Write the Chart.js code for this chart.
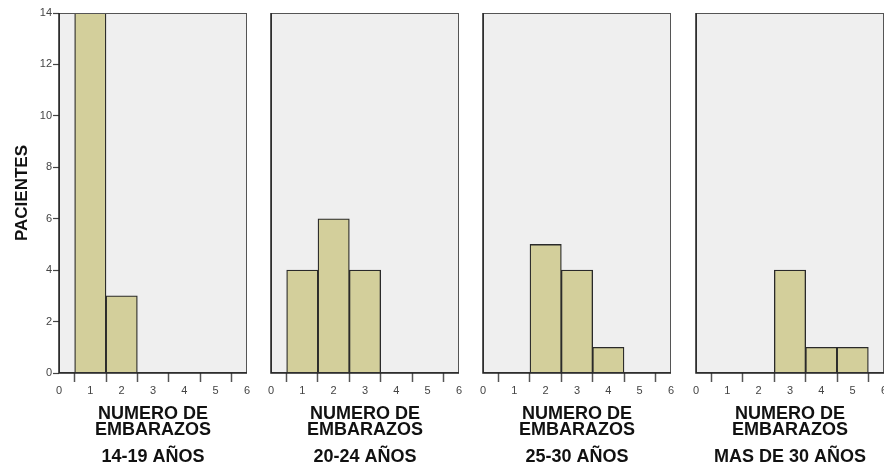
<!DOCTYPE html>
<html>
<head>
<meta charset="utf-8">
<title>Número de embarazos por grupo de edad</title>
<script src="https://cdn.jsdelivr.net/npm/chart.js@4.4.1/dist/chart.umd.min.js"></script>
<style>
  html, body { margin: 0; padding: 0; background: #ffffff; overflow: hidden; }
  #wrap { position: relative; width: 884px; height: 466px; }
  canvas { position: absolute; top: 0; }
</style>
</head>
<body>
<div id="wrap"></div>
<script>
// Number of pregnancies (x) and patient counts per age group
const embarazos = [1, 2, 3, 4, 5];
const xTicks = [0, 1, 2, 3, 4, 5, 6];
const yTicks = [0, 2, 4, 6, 8, 10, 12, 14];
const grupos = ['14-19 AÑOS', '20-24 AÑOS', '25-30 AÑOS', 'MAS DE 30 AÑOS'];
const pacientes14_19 = [14, 3, 0, 0, 0];
const pacientes20_24 = [4, 6, 4, 0, 0];
const pacientes25_30 = [0, 5, 4, 1, 0];
const pacientesMas30 = [0, 0, 4, 1, 1];
const series = [pacientes14_19, pacientes20_24, pacientes25_30, pacientesMas30];

const xTitle = ['NUMERO DE', 'EMBARAZOS'];
const yTitle = 'PACIENTES';

// panel geometry
const H = 466;
const plotLefts = [59, 271, 483, 696];
const plotW = 188;
const plotTop = 13;
const plotBottom = 373;

const barColor = '#d3cf9b';
const bgColor = '#efefef';
const inkColor = '#222222';
const FONT = '"Liberation Sans", Arial, sans-serif';

// fills the plot area and draws the frame plus the titles below it
const panelDecor = {
  id: 'panelDecor',
  beforeDatasetsDraw(chart) {
    const { ctx, chartArea: a } = chart;
    ctx.save();
    ctx.fillStyle = bgColor;
    ctx.fillRect(a.left, a.top, a.right - a.left, a.bottom - a.top);
    ctx.restore();
  },
  afterDraw(chart, args, opts) {
    const { ctx, chartArea: a } = chart;
    ctx.save();
    ctx.strokeStyle = '#555555';
    ctx.lineWidth = 1;
    ctx.strokeRect(a.left + 0.5, a.top + 0.5, a.right - a.left - 1, a.bottom - a.top - 1);
    ctx.strokeStyle = inkColor;
    ctx.lineWidth = 1.5;
    ctx.beginPath();
    ctx.moveTo(a.left, a.top);
    ctx.lineTo(a.left, a.bottom);
    ctx.lineTo(a.right, a.bottom);
    ctx.stroke();

    const cx = (a.left + a.right) / 2;
    ctx.fillStyle = '#111111';
    ctx.textAlign = 'center';
    ctx.textBaseline = 'alphabetic';
    ctx.font = 'bold 18px ' + FONT;
    ctx.fillText(xTitle[0], cx, 419);
    ctx.fillText(xTitle[1], cx, 435);
    ctx.fillText(opts.group, cx, 462);

    if (opts.showYTitle) {
      ctx.translate(27, (a.top + a.bottom) / 2);
      ctx.rotate(-Math.PI / 2);
      ctx.font = 'bold 17px ' + FONT;
      ctx.fillText(yTitle, 0, 0);
    }
    ctx.restore();
  }
};

const wrap = document.getElementById('wrap');

series.forEach((vals, i) => {
  const first = i === 0;
  const padLeft = first ? 0 : 12;
  const padRight = 12;
  const leftSpace = first ? plotLefts[0] : padLeft;
  const canvasLeft = plotLefts[i] - leftSpace;
  const canvasW = leftSpace + plotW + padRight;

  const cv = document.createElement('canvas');
  cv.width = canvasW;
  cv.height = H;
  cv.style.left = canvasLeft + 'px';
  cv.style.width = canvasW + 'px';
  cv.style.height = H + 'px';
  wrap.appendChild(cv);

  const points = embarazos
    .map((x, k) => ({ x: x, y: vals[k] }))
    .filter(p => p.y > 0);

  new Chart(cv, {
    type: 'bar',
    data: {
      datasets: [{
        data: points,
        backgroundColor: barColor,
        borderColor: '#2a2a2a',
        borderWidth: 1.3,
        barPercentage: 1,
        categoryPercentage: 1
      }]
    },
    options: {
      responsive: false,
      animation: false,
      devicePixelRatio: 1,
      layout: { padding: { left: padLeft, right: padRight, top: plotTop, bottom: 0 } },
      plugins: {
        legend: { display: false },
        tooltip: { enabled: false },
        panelDecor: { group: grupos[i], showYTitle: first }
      },
      scales: {
        x: {
          type: 'linear',
          min: xTicks[0],
          max: xTicks[xTicks.length - 1],
          offset: false,
          afterFit(scale) { scale.height = H - plotBottom; },
          afterBuildTicks(scale) { scale.ticks = xTicks.map(v => ({ value: v })); },
          grid: {
            drawOnChartArea: false,
            drawTicks: true,
            tickLength: 9,
            tickColor: '#555555',
            tickWidth: 1.5
          },
          border: { display: false },
          ticks: {
            padding: 2,
            color: '#444444',
            font: { family: FONT, size: 11 },
            maxRotation: 0,
            autoSkip: false
          }
        },
        y: {
          display: first,
          min: yTicks[0],
          max: yTicks[yTicks.length - 1],
          afterFit(scale) { if (first) scale.width = plotLefts[0]; },
          afterBuildTicks(scale) { scale.ticks = yTicks.map(v => ({ value: v })); },
          grid: {
            drawOnChartArea: false,
            drawTicks: true,
            tickLength: 6,
            tickColor: '#444444',
            tickWidth: 1.2
          },
          border: { display: false },
          ticks: {
            padding: 1,
            color: '#444444',
            font: { family: FONT, size: 11 }
          }
        }
      }
    },
    plugins: [panelDecor]
  });
});
</script>
</body>
</html>
